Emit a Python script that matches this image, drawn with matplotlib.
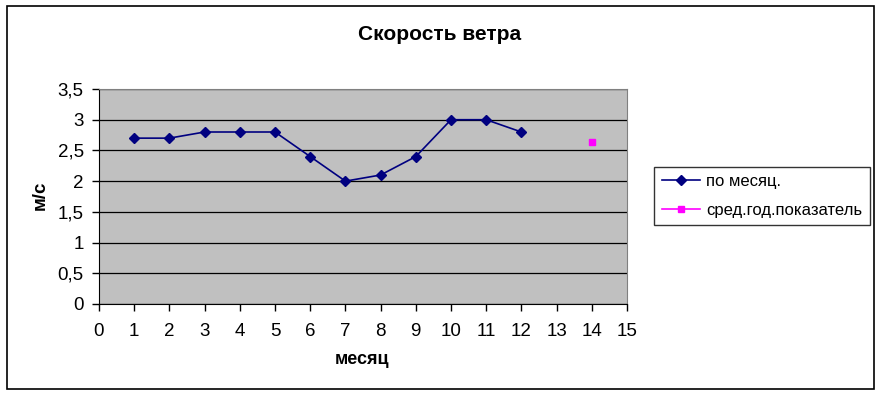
import matplotlib.pyplot as plt
from matplotlib.patches import Rectangle
from matplotlib.ticker import FuncFormatter, MultipleLocator

plt.rcParams['font.family'] = ['Liberation Sans', 'DejaVu Sans']

# Data
months = [1, 2, 3, 4, 5, 6, 7, 8, 9, 10, 11, 12]
wind_speed = [2.7, 2.7, 2.8, 2.8, 2.8, 2.4, 2.0, 2.1, 2.4, 3.0, 3.0, 2.8]
avg_x = [14]
avg_speed = [2.63]

fig = plt.figure(figsize=(8.82, 3.97), dpi=100)
ax = fig.add_axes([99 / 882, 1 - 304 / 397, 528 / 882, 215 / 397])
ax.set_facecolor('#c0c0c0')

ax.plot(months, wind_speed, color='#000080', linewidth=1.2, marker='D',
        markersize=5, markerfacecolor='#000080', markeredgecolor='#000080',
        label='по месяц.')
ax.plot(avg_x, avg_speed, color='#ff00ff', linewidth=1.2, marker='s',
        markersize=5, markerfacecolor='#ff00ff', markeredgecolor='#ff00ff',
        label='сред.год.показатель')

ax.set_xlim(0, 15)
ax.set_ylim(0, 3.5)
ax.xaxis.set_major_locator(MultipleLocator(1))
ax.yaxis.set_major_locator(MultipleLocator(0.5))
ax.yaxis.set_major_formatter(FuncFormatter(lambda v, p: f'{v:g}'.replace('.', ',')))
ax.grid(axis='y', color='black', linewidth=0.9)
ax.set_axisbelow(True)
ax.tick_params(labelsize=13.5, length=5, width=1, color='black', direction='out')
ax.tick_params(axis='x', pad=9)
ax.tick_params(axis='y', pad=6)

for side in ['top', 'right']:
    ax.spines[side].set_color('#808080')
for side in ['left', 'bottom']:
    ax.spines[side].set_color('black')

fig.text(440 / 882, 1 - 34 / 397, 'Скорость ветра', ha='center', va='center',
         fontsize=15, fontweight='bold')
fig.text(40 / 882, 1 - 195 / 397, 'м/с', ha='center', va='center',
         rotation=90, fontsize=13.5, fontweight='bold')
fig.text(362 / 882, 1 - 359 / 397, 'месяц', ha='center', va='center',
         fontsize=13, fontweight='bold')

leg = fig.legend(loc='center left', bbox_to_anchor=(654 / 882, 1 - 196 / 397),
                 fontsize=12, frameon=True, fancybox=False, handlelength=2.3,
                 handletextpad=0.4, borderpad=0.45, labelspacing=0.8,
                 borderaxespad=0)
leg.get_frame().set_edgecolor('black')
leg.get_frame().set_linewidth(1)

# outer chart border
fig.patches.append(Rectangle((7 / 882, 1 - 389 / 397), 867 / 882, 383 / 397,
                             transform=fig.transFigure, fill=False,
                             edgecolor='black', linewidth=1.2))

fig.savefig('out.png', dpi=100)
